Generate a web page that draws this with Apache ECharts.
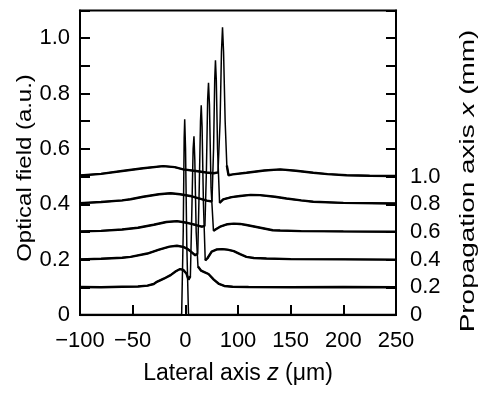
<!DOCTYPE html>
<html>
<head>
<meta charset="utf-8">
<script src="https://cdn.jsdelivr.net/npm/echarts@6/dist/echarts.min.js"></script>
<style>
html,body{margin:0;padding:0;background:#fff;}
#chart{width:481px;height:397px;}
</style>
</head>
<body>
<div id="chart"></div>
<script>
// Tick labels (the printed axis skips "50": ticks are evenly spaced)
const xTickLabels = ['\u2212100', '\u221250', '0', '100', '150', '200', '250'];
const yLeftLabels = ['0', '', '0.2', '', '0.4', '', '0.6', '', '0.8', '', '1.0', ''];
const yRightLabels = ['0', '0.2', '0.4', '0.6', '0.8', '1.0'];
const traceNames = ['0', '0.2', '0.4', '0.6', '0.8', '1.0'];

// Traces: [lateral position (tick scale), optical field (offset)]
const trace00 = [[-100,0],[-3.5,0],[-2,0.3],[-1.1,0.64],[-0.6,0.707],[0.2,0.6],[1.4,0.25],[3,0],[200,0]];
const trace02 = [[-100,0.101],[-80,0.1],[-60,0.102],[-45,0.103],[-36,0.106],[-30,0.112],[-27,0.12],[-20,0.132],[-14,0.144],[-9,0.158],[-5,0.166],[-2,0.163],[1,0.15],[3,0.128],[4.8,0.14],[6.2,0.38],[7.4,0.6],[8.2,0.646],[9,0.56],[10.3,0.3],[12,0.175],[15,0.16],[18,0.155],[22,0.148],[27,0.128],[32,0.112],[37,0.105],[45,0.102],[60,0.101],[100,0.1],[150,0.101],[200,0.1]];
const trace04 = [[-100,0.201],[-80,0.203],[-60,0.207],[-52,0.21],[-36,0.222],[-25,0.236],[-15,0.247],[-8,0.25],[-2,0.246],[1.5,0.24],[5,0.23],[9.4,0.216],[11.8,0.222],[13.2,0.46],[14.4,0.7],[15.1,0.758],[15.9,0.68],[17.2,0.4],[18.9,0.197],[21,0.205],[25,0.229],[30,0.237],[35,0.238],[40,0.236],[46,0.231],[52,0.22],[58,0.21],[65,0.206],[77,0.204],[100,0.202],[150,0.201],[200,0.2]];
const trace06 = [[-100,0.302],[-80,0.304],[-60,0.309],[-45,0.315],[-30,0.326],[-18,0.336],[-8,0.339],[0,0.334],[5,0.33],[10,0.325],[15.7,0.319],[18.6,0.322],[20,0.52],[21.2,0.78],[22,0.839],[22.9,0.76],[24.4,0.46],[26.7,0.304],[29,0.31],[33,0.319],[40,0.328],[46,0.33],[52,0.329],[58,0.325],[70,0.316],[83,0.306],[90,0.305],[110,0.303],[150,0.302],[200,0.301]];
const trace08 = [[-100,0.404],[-80,0.408],[-60,0.414],[-52,0.418],[-40,0.427],[-25,0.436],[-14,0.44],[-5,0.436],[4.6,0.43],[12,0.422],[20.5,0.413],[25.3,0.41],[26.8,0.6],[27.9,0.85],[28.6,0.92],[29.4,0.85],[30.6,0.6],[32.5,0.405],[36,0.418],[44,0.426],[52,0.43],[62,0.434],[71,0.433],[85,0.427],[96,0.421],[110,0.414],[121.5,0.409],[150,0.405],[200,0.403]];
const trace10 = [[-100,0.504],[-80,0.51],[-60,0.52],[-40,0.53],[-21,0.538],[-10,0.534],[-2,0.526],[10,0.52],[20,0.515],[27,0.512],[31,0.515],[33,0.7],[34.3,0.95],[35.3,1.039],[36.3,0.95],[37.8,0.7],[39.4,0.54],[41,0.505],[45,0.508],[58,0.514],[75,0.522],[90,0.526],[105,0.521],[121.5,0.514],[135,0.509],[153,0.505],[175,0.503],[200,0.502]];
const traces = [trace00, trace02, trace04, trace06, trace08, trace10];

const FONT = '"Liberation Sans", Arial, sans-serif';
const chart = echarts.init(document.getElementById('chart'), null, {renderer: 'canvas'});

const tickStyle = {show: true, inside: true, length: 10, lineStyle: {color: '#000', width: 2}};
const lineStyleAxis = {show: true, onZero: false, lineStyle: {color: '#000', width: 2}};

// thin line for the whole trace, thicker (noisy-looking) line for the slowly varying part
const series = [];
traces.forEach((d, i) => {
  series.push({
    name: traceNames[i], type: 'line', data: d, showSymbol: false, symbol: 'none',
    lineStyle: {color: '#000', width: 1.5}, silent: true, z: 3
  });
  const y0 = d[0][1];
  series.push({
    name: traceNames[i] + ' broad', type: 'line', showSymbol: false, symbol: 'none',
    data: d.map(p => (p[1] - y0 > 0.1 ? [p[0], null] : p)), connectNulls: false,
    lineStyle: {color: '#000', width: 2.4}, silent: true, z: 3
  });
});

chart.setOption({
  animation: false,
  backgroundColor: '#fff',
  grid: {left: 80, right: 85, top: 10.5, bottom: 82, show: true, borderColor: '#000', borderWidth: 2, backgroundColor: 'transparent'},
  xAxis: {
    type: 'value', min: -100, max: 200, interval: 50,
    axisLine: lineStyleAxis, axisTick: tickStyle, splitLine: {show: false},
    axisLabel: {color: '#000', fontFamily: FONT, fontSize: 22, margin: 15,
      formatter: v => xTickLabels[Math.round((v + 100) / 50)] || ''},
    name: 'Lateral axis {i|z} (\u03bcm)', nameLocation: 'middle', nameGap: 47,
    nameTextStyle: {color: '#000', fontFamily: FONT, fontSize: 23,
      rich: {i: {fontStyle: 'italic', fontFamily: FONT, fontSize: 23, color: '#000'}}}
  },
  yAxis: [{
    type: 'value', min: 0, max: 1.1, interval: 0.1, position: 'left',
    axisLine: lineStyleAxis, axisTick: tickStyle, splitLine: {show: false},
    axisLabel: {color: '#000', fontFamily: FONT, fontSize: 22, margin: 10,
      formatter: v => yLeftLabels[Math.round(v * 10)] || ''}
  }, {
    type: 'value', min: 0, max: 1.1, interval: 0.1, position: 'right',
    axisLine: lineStyleAxis, axisTick: tickStyle, splitLine: {show: false},
    axisLabel: {color: '#000', fontFamily: FONT, fontSize: 22, margin: 14,
      formatter: v => yRightLabels[Math.round(v * 10)] || ''}
  }],
  graphic: [{
    type: 'text', x: 25, y: 168, rotation: Math.PI / 2, scaleX: 1.14,
    style: {text: 'Optical field (a.u.)', fontFamily: FONT, fontSize: 21, fill: '#000',
      align: 'center', verticalAlign: 'middle', textAlign: 'center', textVerticalAlign: 'middle'}
  }, {
    type: 'text', x: 468, y: 181, rotation: Math.PI / 2, scaleX: 1.33,
    style: {text: 'Propagation axis {i|x} (mm)', fontFamily: FONT, fontSize: 21, fill: '#000',
      rich: {i: {fontStyle: 'italic', fontFamily: FONT, fontSize: 21, fill: '#000', color: '#000'}},
      align: 'center', verticalAlign: 'middle', textAlign: 'center', textVerticalAlign: 'middle'}
  }],
  series: series
});
</script>
</body>
</html>
